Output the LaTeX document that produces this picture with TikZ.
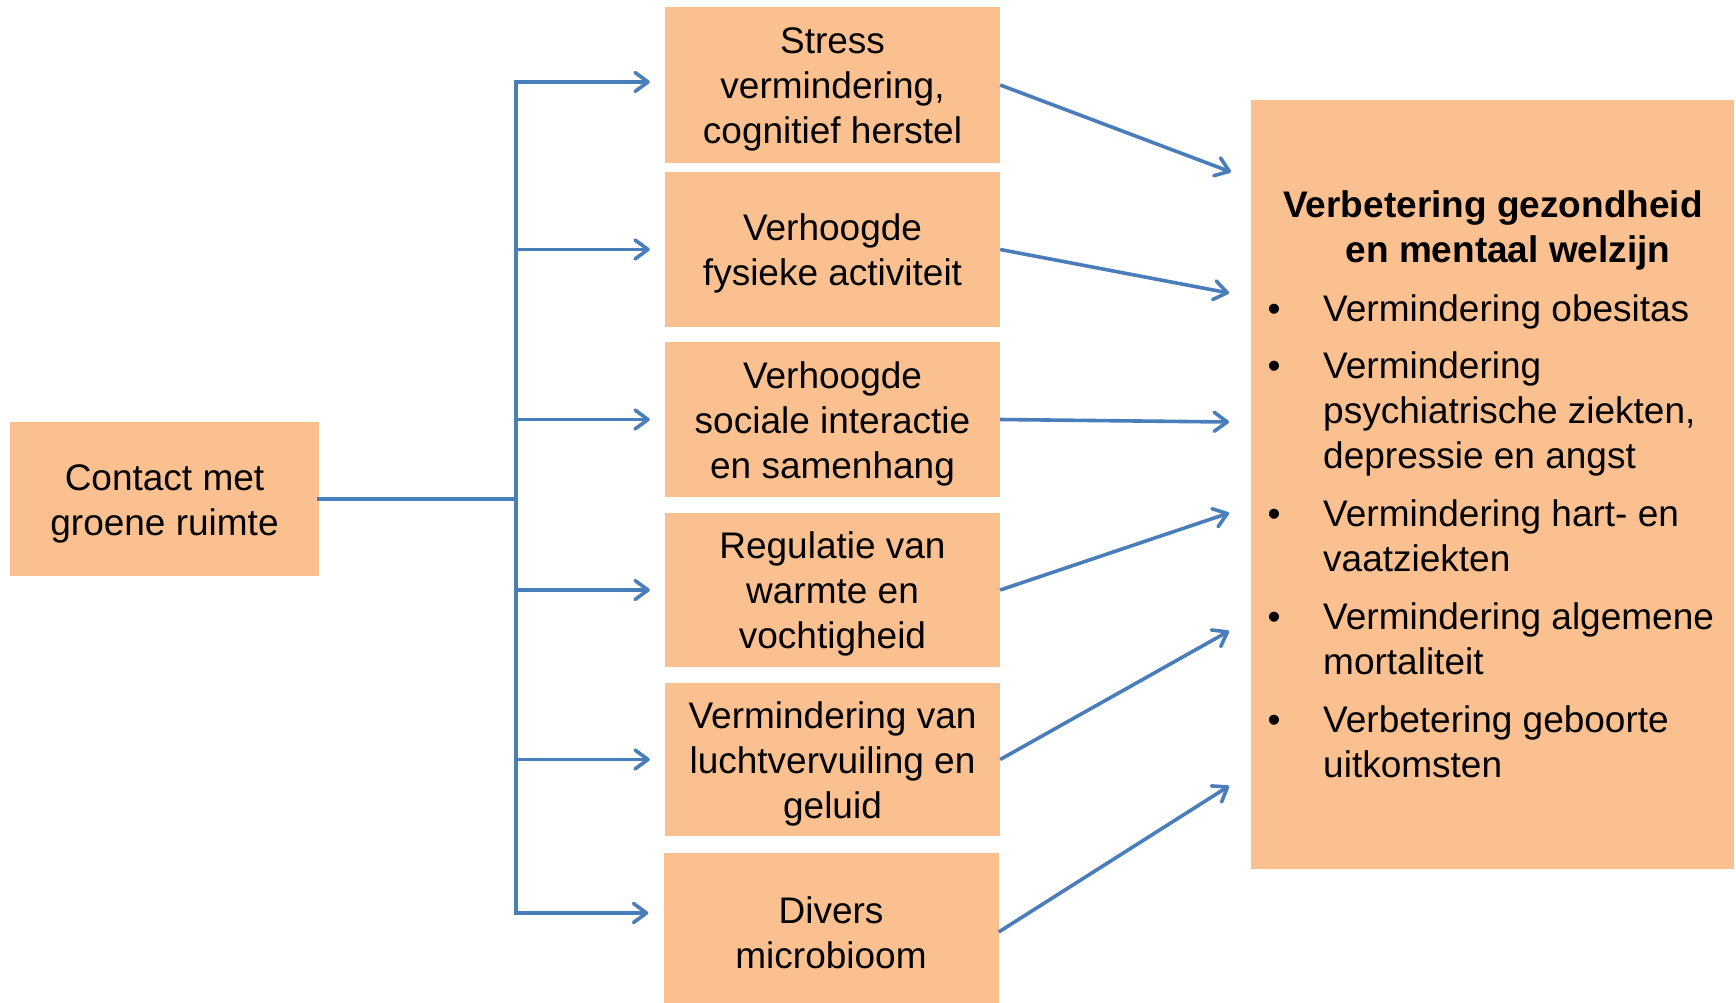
\documentclass[tikz,border=0pt]{standalone}
\usepackage{fontspec}
\setmainfont{Liberation Sans}
\usetikzlibrary{arrows.meta,calc}
\definecolor{boxfill}{HTML}{FAC090}
\definecolor{arrowblue}{HTML}{4A7EBB}
\newcommand\mytopstrut{\rule{0pt}{35pt}}
\newcommand\mybotstrut{\rule[-8pt]{0pt}{8pt}}
\begin{document}
\begin{tikzpicture}[x=1pt,y=-1pt,
  box/.style={fill=boxfill, draw=none, inner sep=0pt, align=center,
              font=\fontsize{37}{45}\selectfont},
  conn/.style={draw=arrowblue, line width=3.6pt, line cap=rect},
  arr/.style={draw=arrowblue, line width=3.6pt, line join=round,
              -{Straight Barb[length=13pt,width=19pt,line cap=round,line join=round]}},
  txt/.style={font=\fontsize{37}{45}\selectfont, inner sep=0pt, anchor=base west},
  ttl/.style={font=\bfseries\fontsize{37}{45}\selectfont, inner sep=0pt, anchor=base},
  bul/.style={font=\fontsize{37}{45}\selectfont, inner sep=0pt, anchor=base},
]
\useasboundingbox (0,0) rectangle (1736,1003);

% source
\node[box, minimum width=309pt, minimum height=154pt] (src) at (164.5,499) {\mytopstrut Contact met\\groene ruimte\mybotstrut};

% middle boxes
\node[box, minimum width=335pt, minimum height=156pt] (m1) at (832.5,85) {\mytopstrut Stress\\vermindering,\\cognitief herstel\mybotstrut};
\node[box, minimum width=335pt, minimum height=155pt] (m2) at (832.5,249.5) {\mytopstrut Verhoogde\\fysieke activiteit\mybotstrut};
\node[box, minimum width=335pt, minimum height=155pt] (m3) at (832.5,419.5) {\mytopstrut Verhoogde\\sociale interactie\\en samenhang\mybotstrut};
\node[box, minimum width=335pt, minimum height=154pt] (m4) at (832.5,590) {\mytopstrut Regulatie van\\warmte en\\vochtigheid\mybotstrut};
\node[box, minimum width=335pt, minimum height=153pt] (m5) at (832.5,759.5) {\mytopstrut Vermindering van\\luchtvervuiling en\\geluid\mybotstrut};
\node[box, minimum width=335pt, minimum height=158pt] (m6) at (831,932) {\mytopstrut Divers\\microbioom\mybotstrut};

% outcome box
\node[box, minimum width=483pt, minimum height=769pt] (out) at (1492.5,484.5) {};
\node[ttl] (h1) at (1493,217) {Verbetering gezondheid};
\node[ttl] (h2) at (1508,262) {en mentaal welzijn};

\node[bul] (b1) at (1274,321) {•};
\node[bul] (b2) at (1274,378) {•};
\node[bul] (b3) at (1274,526) {•};
\node[bul] (b4) at (1274,629) {•};
\node[bul] (b5) at (1274,732) {•};

\node[txt] (l1)  at (1323,321) {Vermindering obesitas};
\node[txt] (l2a) at (1323,378) {Vermindering};
\node[txt] (l2b) at (1323,423) {psychiatrische ziekten,};
\node[txt] (l2c) at (1323,468) {depressie en angst};
\node[txt] (l3a) at (1323,526) {Vermindering hart- en};
\node[txt] (l3b) at (1323,571) {vaatziekten};
\node[txt] (l4a) at (1323,629) {Vermindering algemene};
\node[txt] (l4b) at (1323,674) {mortaliteit};
\node[txt] (l5a) at (1323,732) {Verbetering geboorte};
\node[txt] (l5b) at (1323,777) {uitkomsten};

% bus
\coordinate (bus) at (516,499);
\coordinate (bustop) at (516,82);
\coordinate (busbot) at (516,913);
\draw[conn] (src.east) -- (bus);
\draw[conn] (bustop) -- (busbot);

\draw[arr, shorten >=15pt] (bustop) -- (bustop -| m1.west);
\draw[arr, shorten >=15pt] (m2.west -| bus) -- (m2.west);
\draw[arr, shorten >=15pt] (m3.west -| bus) -- (m3.west);
\draw[arr, shorten >=15pt] (m4.west -| bus) -- (m4.west);
\draw[arr, shorten >=15pt] (m5.west -| bus) -- (m5.west);
\draw[arr, shorten >=15pt] (busbot) -- (busbot -| m6.west);

% to outcome
\coordinate (t1) at (1231,172);
\coordinate (t2) at (1229,293);
\coordinate (t3) at (1229,422);
\coordinate (t4) at (1229,513);
\coordinate (t5) at (1229,631);
\coordinate (t6) at (1229,786);
\draw[arr] (m1.east) -- (t1);
\draw[arr] (m2.east) -- (t2);
\draw[arr] (m3.east) -- (t3);
\draw[arr] (m4.east) -- (t4);
\draw[arr] (m5.east) -- (t5);
\draw[arr] (m6.east) -- (t6);
\end{tikzpicture}
\end{document}
